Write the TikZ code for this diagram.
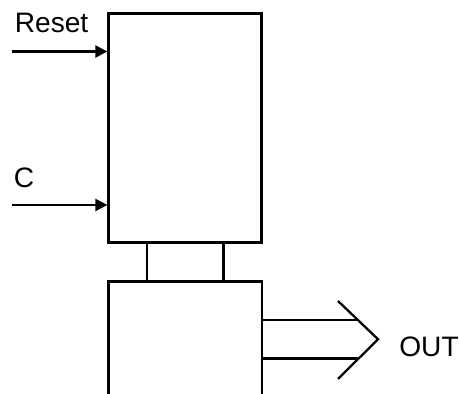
\documentclass[tikz,border=0pt]{standalone}
\usepackage{fontspec}
\setmainfont{Liberation Sans}
\usetikzlibrary{arrows.meta}

\begin{document}
\begin{tikzpicture}[block/.style={rectangle,draw,line width=1.3pt,minimum width=3.06cm,minimum height=4.58cm,inner sep=0pt},
    wire/.style={line width=1.3pt},
    sig_label/.style={font=\fontsize{16}{19}\selectfont,inner sep=0pt},
    >={Triangle[length=0.24cm,width=0.24cm]}]
    \useasboundingbox (0,0) rectangle (9.2,7.88);
    \node[block] (upper) at (3.70, 5.32) {};
    \coordinate (reset_in) at (0.24, 6.85);
    \coordinate (c_in) at (0.24, 3.78);
    \node[sig_label, anchor=base west] (reset) at (0.29, 7.22) {Reset};
    \node[sig_label, anchor=base west] (c) at (0.27, 4.12) {C};
    \draw[wire, ->] (reset_in) -- (reset_in -| upper.west);
    \draw[wire, ->] (c_in) -- (c_in -| upper.west);
    % lower block, open at the bottom
    \coordinate (lower_sw) at (2.17, 0);
    \coordinate (lower_nw) at (2.17, 2.25);
    \coordinate (lower_ne) at (5.24, 2.25);
    \coordinate (lower_se) at (5.24, 0);
    \draw[wire] (lower_sw) -- (lower_nw) -- (lower_ne) -- (lower_se);
    \coordinate (link1) at (2.94, 2.25);
    \coordinate (link2) at (4.47, 2.25);
    \draw[wire] (link1 |- upper.south) -- (link1);
    \draw[wire] (link2 |- upper.south) -- (link2);
    % bus output
    \coordinate (bus1) at (7.16, 1.48);
    \coordinate (bus2) at (7.16, 0.71);
    \coordinate (tip_top) at (6.76, 1.86);
    \coordinate (tip) at (7.56, 1.095);
    \coordinate (tip_bot) at (6.76, 0.30);
    \draw[wire] (bus1 -| lower_ne) -- (bus1);
    \draw[wire] (bus2 -| lower_ne) -- (bus2);
    \draw[wire] (tip_top) -- (tip) -- (tip_bot);
    \node[sig_label, anchor=base west] (out) at (7.98, 0.74) {OUT};
\end{tikzpicture}
\end{document}
